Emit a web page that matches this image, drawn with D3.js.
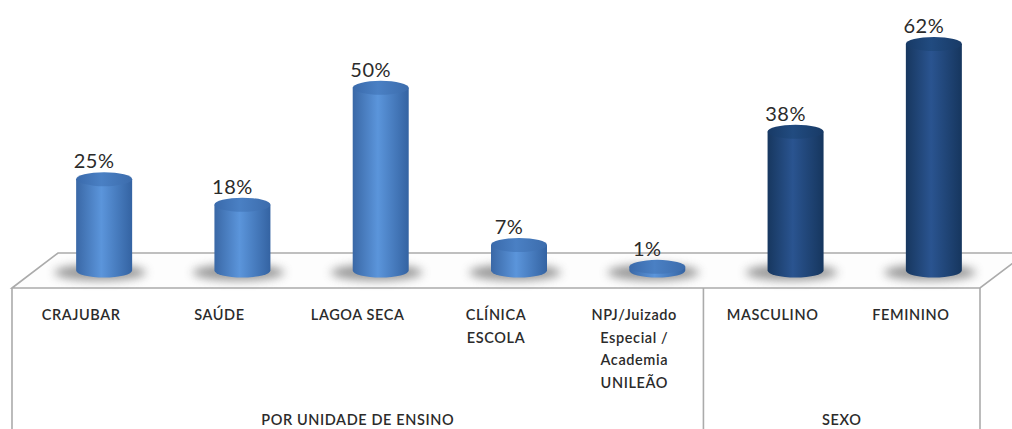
<!DOCTYPE html>
<html>
<head>
<meta charset="utf-8">
<script src="https://cdn.jsdelivr.net/npm/d3@7"></script>
<style>
  body { margin: 0; background: #fff; }
  svg { display: block; }
  text { font-family: Lato, "Open Sans", sans-serif; fill: #2b2b2b; }
  .cat { font-size: 14.5px; font-weight: 600; letter-spacing: 0.6px; }
  .val { font-size: 20px; letter-spacing: 0.5px; }
</style>
</head>
<body>
<svg id="chart" width="1012" height="429"></svg>
<script>
const categories = ["CRAJUBAR", "SAÚDE", "LAGOA SECA", "CLÍNICA ESCOLA",
  "NPJ/Juizado Especial / Academia UNILEÃO", "MASCULINO", "FEMININO"];
const catLines = [["CRAJUBAR"], ["SAÚDE"], ["LAGOA SECA"], ["CLÍNICA", "ESCOLA"],
  ["NPJ/Juizado", "Especial /", "Academia", "UNILEÃO"], ["MASCULINO"], ["FEMININO"]];
const values = [25, 18, 50, 7, 1, 38, 62];
const groupOf = [0, 0, 0, 0, 0, 1, 1];
const groups = ["POR UNIDADE DE ENSINO", "SEXO"];

const svg = d3.select("#chart");
const depth = {dx: 46, dy: -35};
const floorY = 288, left = 12, right = 980;

const x = d3.scaleBand().domain(categories).range([left, right]);
const y = d3.scaleLinear().domain([0, 62]).range([floorY + depth.dy / 2, 44]);

const defs = svg.append("defs");
function grad(id, c0, c1, c2) {
  const g = defs.append("linearGradient").attr("id", id);
  g.append("stop").attr("offset", "0%").attr("stop-color", c0);
  g.append("stop").attr("offset", "45%").attr("stop-color", c1);
  g.append("stop").attr("offset", "100%").attr("stop-color", c2);
}
grad("g0", "#3a68a6", "#5b95db", "#3463a2");
grad("g1", "#17375f", "#2a5490", "#16365e");
grad("t0", "#3a6aab", "#4a80c4", "#3c6cac");
grad("t1", "#183a66", "#214b80", "#183a66");
defs.append("filter").attr("id", "blur")
    .attr("x", "-50%").attr("y", "-100%").attr("width", "200%").attr("height", "300%")
  .append("feGaussianBlur").attr("stdDeviation", 5);

// floor (3D table)
const floor = svg.append("g").attr("fill", "none").attr("stroke", "#ababab").attr("stroke-width", 1.6);
floor.append("path")
    .attr("fill", "#fdfdfd")
    .attr("d", `M${left},${floorY} L${left + depth.dx},${floorY + depth.dy} L${right + depth.dx},${floorY + depth.dy} L${right},${floorY} Z`);
floor.append("line").attr("x1", left).attr("x2", left).attr("y1", floorY).attr("y2", 429);
floor.append("line").attr("x1", right).attr("x2", right).attr("y1", floorY).attr("y2", 429);
const divX = x(categories[5]);
floor.append("line").attr("x1", divX).attr("x2", divX).attr("y1", floorY).attr("y2", 429);

// bars as cylinders
const rx = 28, ry = 7;
const cx = d => x(d.c) + x.bandwidth() / 2 + depth.dx / 2;
const data = categories.map((c, i) => ({c, v: values[i], g: groupOf[i]}));

const bars = svg.append("g").selectAll("g").data(data).join("g");
bars.append("ellipse")
    .attr("cx", d => cx(d) - 4).attr("cy", y(0) + 2)
    .attr("rx", 46).attr("ry", 8)
    .attr("fill", "#777").attr("opacity", 0.75)
    .attr("filter", "url(#blur)");
bars.append("path")
    .attr("fill", d => `url(#g${d.g})`)
    .attr("d", d => {
      const x0 = cx(d) - rx, x1 = cx(d) + rx, yt = y(d.v), yb = y(0);
      return `M${x0},${yt} L${x0},${yb} A${rx},${ry} 0 0 0 ${x1},${yb} L${x1},${yt} Z`;
    });
bars.append("ellipse")
    .attr("cx", cx).attr("cy", d => y(d.v))
    .attr("rx", rx).attr("ry", ry)
    .attr("fill", d => `url(#t${d.g})`);

// value labels
bars.append("text")
    .attr("class", "val")
    .attr("text-anchor", "middle")
    .attr("x", d => cx(d) - 10)
    .attr("y", d => y(d.v) - ry - 4)
    .text(d => d.v + "%");

// category labels
const labels = svg.append("g").selectAll("text").data(data).join("text")
    .attr("class", "cat")
    .attr("text-anchor", "middle")
    .attr("x", d => x(d.c) + x.bandwidth() / 2)
    .attr("y", 320);
labels.selectAll("tspan").data((d, i) => catLines[i]).join("tspan")
    .attr("x", function() { return this.parentNode.getAttribute("x"); })
    .attr("dy", (d, i) => i === 0 ? 0 : 22.5)
    .text(d => d);

// group labels
const spans = [[left, divX], [divX, right]];
svg.append("g").selectAll("text").data(groups).join("text")
    .attr("class", "cat")
    .attr("text-anchor", "middle")
    .attr("x", (d, i) => (spans[i][0] + spans[i][1]) / 2)
    .attr("y", 425)
    .text(d => d);
</script>
</body>
</html>
